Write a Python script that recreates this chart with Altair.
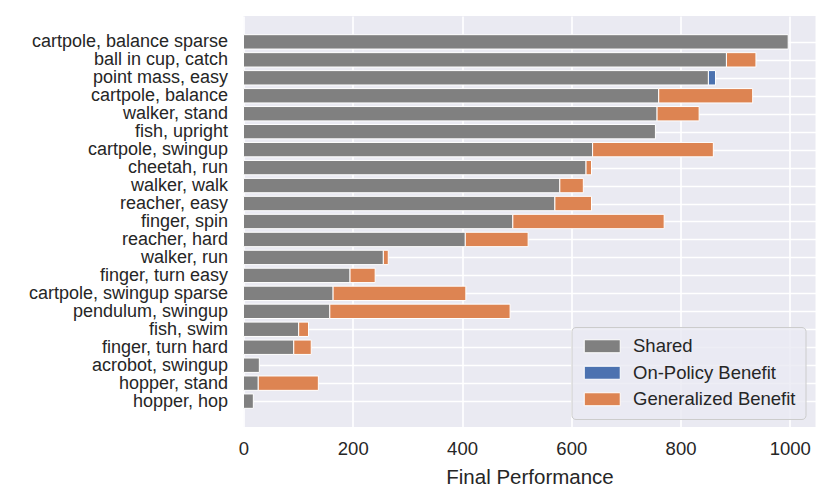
import json
import altair as alt
import pandas as pd

tasks = [
    "cartpole, balance sparse", "ball in cup, catch", "point mass, easy",
    "cartpole, balance", "walker, stand", "fish, upright", "cartpole, swingup",
    "cheetah, run", "walker, walk", "reacher, easy", "finger, spin",
    "reacher, hard", "walker, run", "finger, turn easy", "cartpole, swingup sparse",
    "pendulum, swingup", "fish, swim", "finger, turn hard", "acrobot, swingup",
    "hopper, stand", "hopper, hop",
]
shared = [997, 884, 851, 760, 757, 754, 639, 627, 579, 570, 493,
          406, 256, 195, 164, 158, 101, 92, 29, 27, 18]
on_policy = [0, 0, 13, 0, 0, 0, 0, 0, 0, 0, 0,
             0, 0, 0, 0, 0, 0, 0, 0, 0, 0]
generalized = [0, 54, 0, 172, 77, 0, 221, 10, 43, 67, 277,
               115, 9, 46, 243, 330, 18, 32, 0, 110, 0]
series = ["Shared", "On-Policy Benefit", "Generalized Benefit"]
colors = ["#808080", "#4C72B0", "#DD8452"]

rows = []
for i, (t, s, o, g) in enumerate(zip(tasks, shared, on_policy, generalized)):
    start = 0
    for name, v in zip(series, [s, o, g]):
        if v > 0:
            rows.append({"task": t, "idx": i, "lo": i - 0.4, "hi": i + 0.4,
                         "series": name, "start": start, "end": start + v})
        start += v
df = pd.DataFrame(rows)

FONT = "Liberation Sans"
TXT = "#262626"
n = len(tasks)

chart = alt.Chart(df).mark_bar(stroke="white", strokeWidth=1).encode(
    y=alt.Y("lo:Q",
            scale=alt.Scale(domain=[-1.44, n - 1 + 1.44], nice=False, zero=False, reverse=True),
            axis=alt.Axis(title=None, ticks=False, domain=False, labelPadding=16,
                          values=list(range(n)), labelOverlap=False,
                          labelExpr=json.dumps(tasks) + "[datum.value]",
                          labelFontSize=18, labelFont=FONT, labelColor=TXT,
                          gridColor="white", gridWidth=1.6,
                          labelLimit=400, labelFlush=False)),
    y2="hi:Q",
    x=alt.X("start:Q", scale=alt.Scale(domain=[0, 1047], nice=False, zero=False),
            axis=alt.Axis(title="Final Performance", values=[0, 200, 400, 600, 800, 1000],
                          format="d", ticks=False, domain=False, labelPadding=12,
                          labelFontSize=18.5, labelFont=FONT, labelColor=TXT,
                          titleFontSize=20.5, titleFont=FONT, titleColor=TXT,
                          titleFontWeight="normal", titlePadding=10,
                          gridColor="white", gridWidth=1.6, labelFlush=False)),
    x2="end:Q",
    color=alt.Color("series:N", sort=series,
                    scale=alt.Scale(domain=series, range=colors),
                    legend=alt.Legend(orient="none", legendX=328, legendY=311, title=None,
                                      symbolType="M-1,-1H4.538V1H-1Z", symbolSize=169,
                                      symbolStrokeColor="white", symbolStrokeWidth=1,
                                      labelFontSize=18.5, labelFont=FONT, labelColor=TXT,
                                      fillColor="rgba(234,234,242,0.8)", strokeColor="#CCCCCC",
                                      cornerRadius=4, padding=10, labelOffset=33,
                                      rowPadding=7.5, labelLimit=400)),
).properties(
    width=572, height=411,
    padding={"left": 19.5, "top": 8, "right": 5, "bottom": 5},
).configure_view(fill="#EAEAF2", stroke=None)

chart.save("out.html", embed_options={"renderer": "svg", "actions": False})
